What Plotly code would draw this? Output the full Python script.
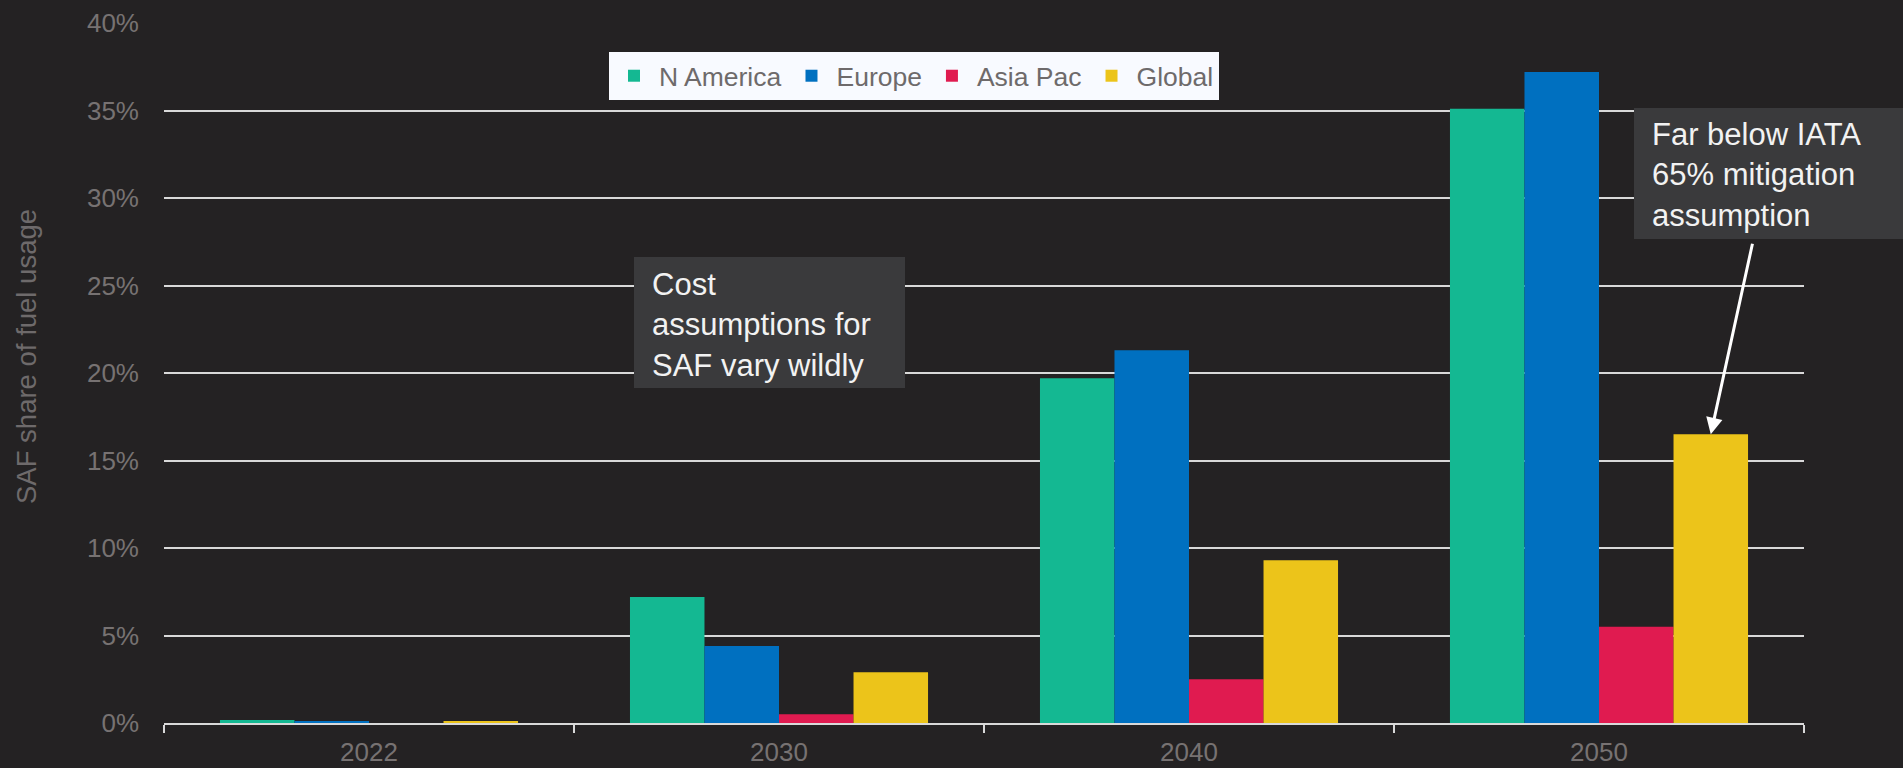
import plotly.graph_objects as go

years = ["2022", "2030", "2040", "2050"]
n_america = [0.17, 7.2, 19.7, 35.1]
europe = [0.08, 4.4, 21.3, 37.2]
asia_pac = [0.0, 0.5, 2.5, 5.5]
global_ = [0.11, 2.9, 9.3, 16.5]

series = [
    ("N America", n_america, "#14B892"),
    ("Europe", europe, "#0070C0"),
    ("Asia Pac", asia_pac, "#E01B50"),
    ("Global", global_, "#ECC41A"),
]

BG = "#242223"
GRID = "#d9d9d9"
TXT = "#777272"
FONT = "Arial, Liberation Sans, sans-serif"
BARGAP = 0.273

fig = go.Figure()
for name, vals, col in series:
    fig.add_trace(go.Bar(
        x=years, y=vals, name=name,
        marker=dict(color=col, line=dict(width=0)),
    ))

# arrow target: top centre of the Global 2050 bar
grp_w = 1 - BARGAP
bar_w = grp_w / len(series)
glob_off = -grp_w / 2 + 3.5 * bar_w
arrow_x = years.index("2050") + glob_off
arrow_y = global_[years.index("2050")]

W, H = 1903, 768
L, R, T, B = 164, 99, 23, 45
PW, PH = W - L - R, H - T - B


def px(x):
    return (x - L) / PW


def py(y):
    return (H - B - y) / PH


BOX = "#3a3a3c"
shapes = [
    dict(type="rect", xref="paper", yref="paper", x0=px(634), x1=px(905),
         y0=py(388), y1=py(257), fillcolor=BOX, line=dict(width=0), layer="above"),
    dict(type="rect", xref="paper", yref="paper", x0=px(1634), x1=px(1903),
         y0=py(239), y1=py(108), fillcolor=BOX, line=dict(width=0), layer="above"),
]

annotations = [
    dict(text="Cost<br>assumptions for<br>SAF vary wildly", xref="paper", yref="paper",
         x=px(651), y=py(325), xanchor="left", yanchor="middle", align="left",
         showarrow=False, borderpad=0, font=dict(family=FONT, size=31, color="#f2f2f2")),
    dict(text="Far below IATA<br>65% mitigation<br>assumption", xref="paper", yref="paper",
         x=px(1651), y=py(175), xanchor="left", yanchor="middle", align="left",
         showarrow=False, borderpad=0, font=dict(family=FONT, size=31, color="#f2f2f2")),
    dict(text="", x=arrow_x, y=arrow_y, xref="x", yref="y", showarrow=True,
         ax=42, ay=-192, arrowhead=2, arrowsize=1.1, arrowwidth=3,
         arrowcolor="#ffffff", standoff=0),
    dict(text="SAF share of fuel usage", xref="paper", yref="paper",
         x=px(27), y=py(357), xanchor="center", yanchor="middle", textangle=-90,
         showarrow=False, font=dict(family=FONT, size=27.5, color="#6e6a6b")),
]

fig.update_layout(
    width=W, height=H,
    margin=dict(l=L, r=R, t=T, b=B, autoexpand=False),
    paper_bgcolor=BG, plot_bgcolor=BG,
    font=dict(family=FONT, color=TXT, size=26),
    barmode="group", bargap=BARGAP, bargroupgap=0,
    showlegend=True,
    legend=dict(orientation="h", x=px(609), y=py(52), xanchor="left", yanchor="top",
                bgcolor="#f8faff", borderwidth=0, itemwidth=40,
                font=dict(family=FONT, size=26.5, color="#6e6a6b")),
    shapes=shapes,
    annotations=annotations,
)

fig.update_xaxes(
    type="category", showgrid=False, showline=True, linecolor=GRID, linewidth=1.5,
    ticks="outside", tickson="boundaries", ticklen=8, tickcolor=GRID, tickwidth=1.5,
    tickfont=dict(family=FONT, size=26, color=TXT), ticklabelstandoff=5,
)
fig.update_yaxes(
    range=[0, 40], dtick=5, ticksuffix="%", showgrid=True, gridcolor=GRID, gridwidth=1.5,
    zeroline=False, showline=False, ticks="", ticklabelstandoff=24,
    tickfont=dict(family=FONT, size=26, color=TXT),
)

fig.write_html("out.html")
